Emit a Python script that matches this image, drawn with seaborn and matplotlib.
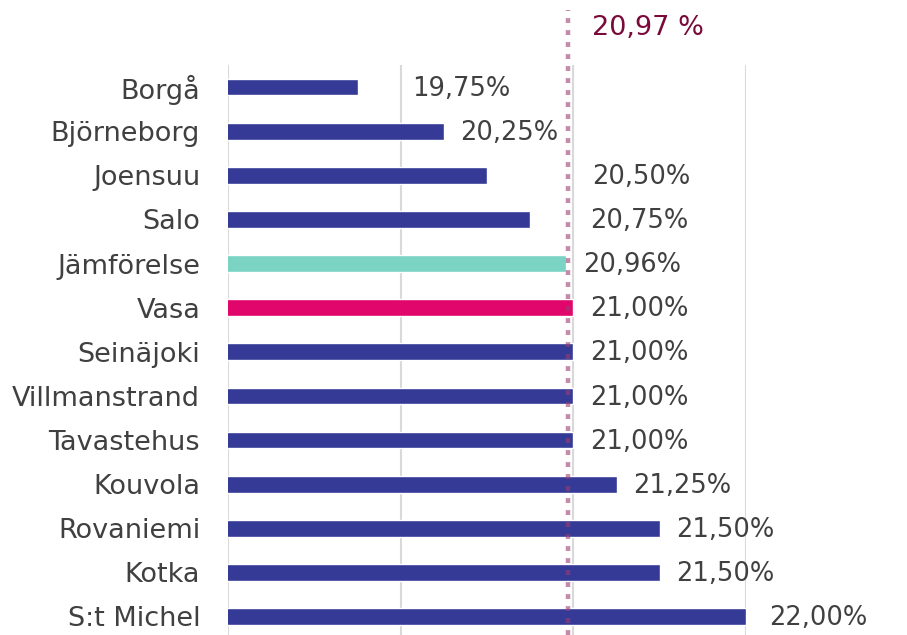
import matplotlib
matplotlib.use("Agg")
import matplotlib.pyplot as plt
import seaborn as sns
import pandas as pd

categories = ["Borgå", "Björneborg", "Joensuu", "Salo", "Jämförelse", "Vasa",
              "Seinäjoki", "Villmanstrand", "Tavastehus", "Kouvola",
              "Rovaniemi", "Kotka", "S:t Michel"]
values = [19.75, 20.25, 20.50, 20.75, 20.96, 21.00, 21.00, 21.00, 21.00,
          21.25, 21.50, 21.50, 22.00]
reference_value = 20.97
reference_label = "20,97 %"

NAVY, TEAL, PINK = "#353A96", "#7BD3C4", "#E0066C"
colors = {c: NAVY for c in categories}
colors["Jämförelse"] = TEAL
colors["Vasa"] = PINK

# extra label shifts (pixels) to mimic the reference's label placement
label_extra_px = {"Borgå": 38, "Joensuu": 88, "Salo": 43, "S:t Michel": 6}

df = pd.DataFrame({"kommun": categories, "skatt": values})

sns.set_style("white")
plt.rcParams["font.family"] = ["DejaVu Sans"]

fig = plt.figure(figsize=(9.07, 6.35), dpi=100)
ax = fig.add_axes([228 / 907, 0.0, (746 - 228) / 907, 1 - 65 / 635])

sns.barplot(data=df, x="skatt", y="kommun", hue="kommun", palette=colors,
            legend=False, width=0.38, ax=ax, orient="h", saturation=1)

ax.set_xlim(19, 22)
ax.set_ylim(12.42, -0.5)
ax.set_xticks([19, 20, 21, 22])
ax.xaxis.grid(True, color="#D9D9D9", linewidth=1.5)
ax.set_axisbelow(True)
for s in ax.spines.values():
    s.set_visible(False)
ax.set_xticklabels([])
ax.set_xlabel("")
ax.set_ylabel("")
ax.tick_params(axis="y", length=0, pad=20, labelsize=19.5, labelcolor="#404040")
ax.tick_params(axis="x", length=0)

for i, (c, v) in enumerate(zip(categories, values)):
    txt = f"{v:.2f}%".replace(".", ",")
    dx = 12 + label_extra_px.get(c, 0) / fig.dpi * 72
    ax.annotate(txt, xy=(v, i), xytext=(dx, -1.2), textcoords="offset points",
                ha="left", va="center", fontsize=18.5, color="#404040",
                annotation_clip=False)

ax.axvline(reference_value, ymin=0, ymax=(635 - 10) / 570, clip_on=False,
           color="#9B3D70", alpha=0.6, linewidth=3.2,
           linestyle=(0, (1.1, 1.6)), zorder=5)
ax.annotate(reference_label, xy=(reference_value, 1.0), xycoords=("data", "axes fraction"),
            xytext=(17, 26.5), textcoords="offset points", ha="left", va="center",
            fontsize=19.5, color="#7A0A3A", annotation_clip=False)

fig.savefig("out.png", dpi=100)
